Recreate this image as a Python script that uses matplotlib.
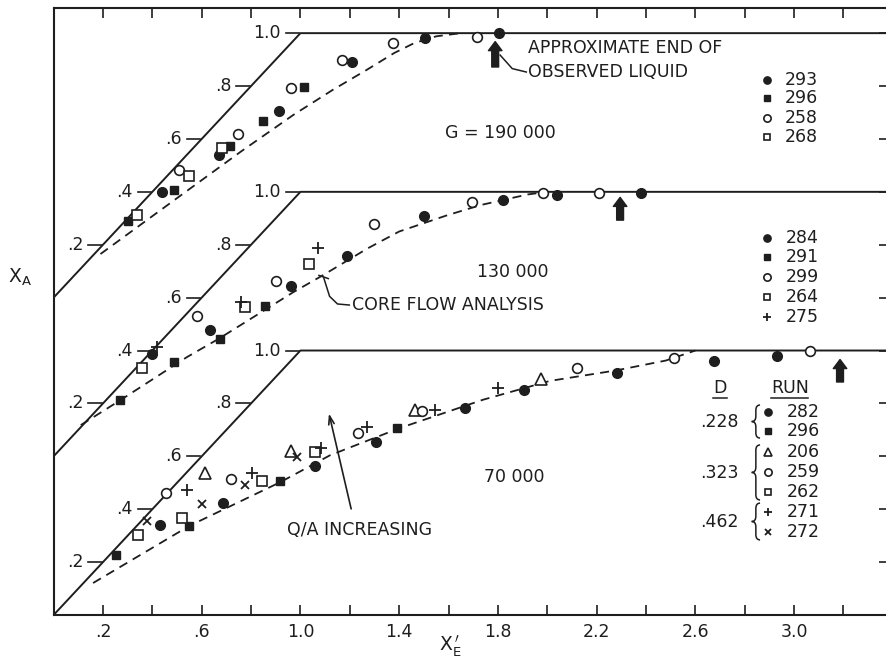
"""X_A against X_E' for three mass velocities, stacked on one axis.

Each G panel is shifted up by 0.6 in X_A so the three share one frame;
the solid envelope is X_A = X_E' capped at 1, dashed is the core-flow model.
"""
import numpy as np
import matplotlib.pyplot as plt
from matplotlib.path import Path
from matplotlib.patches import PathPatch

INK = "#1e1e1e"
FS = 12.5
plt.rcParams["font.family"] = ["DejaVu Sans"]

# panel shift on the shared X_A axis
OFF_190, OFF_130, OFF_70 = 1.2, 0.6, 0.0

# upper bound X_A = X_E', capped at 1.0
BOUND_X = [0.0, 1.0, 3.5]
BOUND_Y = [0.0, 1.0, 1.0]
DIAG_TICKS = [0.2, 0.4, 0.6, 0.8, 1.0]
DIAG_LABELS = [".2", ".4", ".6", ".8", "1.0"]

# core flow analysis (dashed)
CORE190_X = [0.19, 0.51, 0.76, 0.97, 1.13, 1.27, 1.38, 1.46, 1.55, 1.65]
CORE190_Y = [0.165, 0.383, 0.553, 0.69, 0.785, 0.862, 0.925, 0.962, 0.988, 1.0]
CORE130_X = [0.11, 0.27, 0.54, 0.67, 0.97, 1.09, 1.27, 1.40, 1.59, 1.73, 1.92, 2.0]
CORE130_Y = [0.118, 0.212, 0.375, 0.445, 0.62, 0.684, 0.785, 0.85, 0.91, 0.95, 0.99, 1.0]
CORE70_X = [0.16, 0.55, 0.92, 1.12, 1.40, 1.74, 2.01, 2.28, 2.48, 2.60]
CORE70_Y = [0.121, 0.337, 0.503, 0.604, 0.706, 0.814, 0.885, 0.925, 0.962, 1.0]

# G = 190 000
G190_293 = ([0.44, 0.67, 0.915, 1.21, 1.505, 1.805], [0.40, 0.538, 0.704, 0.89, 0.98, 1.0])
G190_296 = ([0.30, 0.488, 0.715, 0.85, 1.015], [0.289, 0.408, 0.575, 0.668, 0.796])
G190_258 = ([0.507, 0.747, 0.961, 1.167, 1.376, 1.716], [0.481, 0.618, 0.792, 0.898, 0.961, 0.985])
G190_268 = ([0.336, 0.547, 0.681], [0.314, 0.459, 0.567])

# G = 130 000
G130_284 = ([0.40, 0.633, 0.962, 1.188, 1.501, 1.822, 2.038, 2.379],
            [0.387, 0.477, 0.644, 0.757, 0.908, 0.971, 0.989, 0.996])
G130_291 = ([0.271, 0.488, 0.676, 0.856], [0.214, 0.356, 0.444, 0.568])
G130_299 = ([0.579, 0.899, 1.296, 1.694, 1.984, 2.21], [0.532, 0.663, 0.879, 0.963, 0.996, 0.996])
G130_264 = ([0.359, 0.775, 1.036], [0.334, 0.565, 0.728])
G130_275 = ([0.418, 0.758, 1.073], [0.413, 0.584, 0.788])

# G = 70 000
G70_282 = ([0.433, 0.687, 1.059, 1.305, 1.667, 1.906, 2.284, 2.677, 2.932],
           [0.34, 0.423, 0.565, 0.655, 0.782, 0.849, 0.916, 0.961, 0.98])
G70_296 = ([0.252, 0.55, 0.919, 1.393], [0.227, 0.337, 0.505, 0.706])
G70_206 = ([0.613, 0.962, 1.464, 1.974], [0.536, 0.62, 0.776, 0.894])
G70_259 = ([0.457, 0.72, 1.235, 1.492, 2.119, 2.514, 3.065], [0.461, 0.514, 0.687, 0.77, 0.935, 0.971, 1.0])
G70_262 = ([0.343, 0.519, 0.843, 1.061], [0.303, 0.365, 0.507, 0.616])
G70_271 = ([0.539, 0.804, 1.084, 1.269, 1.545, 1.802], [0.471, 0.536, 0.63, 0.709, 0.776, 0.859])
G70_272 = ([0.38, 0.60, 0.776, 0.987], [0.356, 0.42, 0.493, 0.598])

STYLE = {
    "fc": dict(marker="o", ms=7, mfc=INK, mec=INK, mew=1.0),
    "fs": dict(marker="s", ms=6, mfc=INK, mec=INK, mew=1.0),
    "oc": dict(marker="o", ms=7, mfc="white", mec=INK, mew=1.2),
    "os": dict(marker="s", ms=6.5, mfc="white", mec=INK, mew=1.2),
    "tri": dict(marker="^", ms=8, mfc="white", mec=INK, mew=1.2),
    "plus": dict(marker="+", ms=8, mec=INK, mew=1.3),
    "x": dict(marker="x", ms=5.5, mec=INK, mew=1.3),
}

PANELS = [
    (OFF_190, CORE190_X, CORE190_Y,
     [(G190_293, "fc"), (G190_296, "fs"), (G190_258, "oc"), (G190_268, "os")]),
    (OFF_130, CORE130_X, CORE130_Y,
     [(G130_284, "fc"), (G130_291, "fs"), (G130_299, "oc"), (G130_264, "os"), (G130_275, "plus")]),
    (OFF_70, CORE70_X, CORE70_Y,
     [(G70_282, "fc"), (G70_296, "fs"), (G70_206, "tri"), (G70_259, "oc"),
      (G70_262, "os"), (G70_271, "plus"), (G70_272, "x")]),
]

# legends, in data coordinates of the shared frame
LEG190 = [("fc", "293"), ("fs", "296"), ("oc", "258"), ("os", "268")]
LEG130 = [("fc", "284"), ("fs", "291"), ("oc", "299"), ("os", "264"), ("plus", "275")]
LEG70 = [("fc", "282"), ("fs", "296"), ("tri", "206"), ("oc", "259"), ("os", "262"),
         ("plus", "271"), ("x", "272")]
LEG190_Y = [2.023, 1.955, 1.879, 1.807]
LEG130_Y = [1.425, 1.354, 1.278, 1.202, 1.127]
LEG70_Y = [0.767, 0.696, 0.616, 0.541, 0.465, 0.389, 0.314]
DIAM = [".228", ".323", ".462"]


def brace(ax, x0, x1, ylo, yhi):
    ym, xm, d = (ylo + yhi) / 2, (x0 + x1) / 2, 0.02
    verts = [(x1, yhi), (xm, yhi), (xm, yhi - d), (xm, ym + d), (xm, ym), (x0, ym),
             (xm, ym), (xm, ym - d), (xm, ylo + d), (xm, ylo), (x1, ylo)]
    C, L = Path.CURVE3, Path.LINETO
    codes = [Path.MOVETO, C, C, L, C, C, C, C, L, C, C]
    ax.add_patch(PathPatch(Path(verts, codes), fc="none", ec=INK, lw=1.1))


def block_arrow(ax, x, y0, y1):
    ax.annotate("", xy=(x, y1), xytext=(x, y0),
                arrowprops=dict(arrowstyle="simple,head_length=0.5,head_width=0.75,tail_width=0.38",
                                fc=INK, ec=INK, mutation_scale=13, shrinkA=0, shrinkB=0))


fig = plt.figure(figsize=(8.86, 6.63), dpi=100)
ax = fig.add_axes([0.0605, 0.0724, 0.9425, 0.9155])
ax.set_xlim(0, 3.383)
ax.set_ylim(0, 2.295)

for off, cx, cy, series in PANELS:
    ax.plot(BOUND_X, np.add(BOUND_Y, off), color=INK, lw=1.4, zorder=2)
    ax.plot(cx, np.add(cy, off), color=INK, lw=1.3, ls=(0, (5, 3.5)), zorder=2)
    for (xs, ys), key in series:
        ax.plot(xs, np.add(ys, off), ls="none", zorder=4, **STYLE[key])
    for v, lab in zip(DIAG_TICKS, DIAG_LABELS):
        ax.plot([v - 0.06, v - 0.005], [off + v] * 2, color=INK, lw=1.2, zorder=2)
        ax.text(v - 0.08, off + v, lab, ha="right", va="center", fontsize=FS, color=INK)

# legends
for (key, run), y in zip(LEG190, LEG190_Y):
    st = dict(STYLE[key]); st["ms"] *= 0.75
    ax.plot(2.891, y, **st)
    ax.text(2.964, y, run, ha="left", va="center", fontsize=FS, color=INK)
for (key, run), y in zip(LEG130, LEG130_Y):
    st = dict(STYLE[key]); st["ms"] *= 0.75
    ax.plot(2.891, y, **st)
    ax.text(2.968, y, run, ha="left", va="center", fontsize=FS, color=INK)
for (key, run), y in zip(LEG70, LEG70_Y):
    st = dict(STYLE[key]); st["ms"] *= 0.75
    ax.plot(2.895, y, **st)
    ax.text(2.972, y, run, ha="left", va="center", fontsize=FS, color=INK)

ax.text(2.700, 0.860, "D", ha="center", va="center", fontsize=FS, color=INK)
ax.text(2.984, 0.860, "RUN", ha="center", va="center", fontsize=FS, color=INK)
ax.plot([2.672, 2.729], [0.822, 0.822], color=INK, lw=1.1)
ax.plot([2.907, 3.057], [0.822, 0.822], color=INK, lw=1.1)
for lab, y in zip(DIAM, [0.730, 0.537, 0.352]):
    ax.text(2.775, y, lab, ha="right", va="center", fontsize=FS, color=INK)
brace(ax, 2.828, 2.862, 0.669, 0.794)
brace(ax, 2.828, 2.862, 0.435, 0.643)
brace(ax, 2.828, 2.862, 0.284, 0.423)

# annotations
ax.text(1.922, 2.144, "APPROXIMATE END OF", ha="left", va="center", fontsize=FS, color=INK)
ax.text(1.922, 2.053, "OBSERVED LIQUID", ha="left", va="center", fontsize=FS, color=INK)
ax.plot([1.809, 1.858, 1.915], [2.117, 2.066, 2.053], color=INK, lw=1.1)
ax.text(1.809, 1.822, "G = 190 000", ha="center", va="center", fontsize=FS, color=INK)
ax.text(1.862, 1.297, "130 000", ha="center", va="center", fontsize=FS, color=INK)
ax.text(1.866, 0.522, "70 000", ha="center", va="center", fontsize=FS, color=INK)
ax.text(1.209, 1.172, "CORE FLOW ANALYSIS", ha="left", va="center", fontsize=FS, color=INK)
ax.plot([1.094, 1.118, 1.15, 1.198], [1.276, 1.205, 1.176, 1.172], color=INK, lw=1.1)
ax.plot([1.075, 1.113], [1.284, 1.272], color=INK, lw=1.1)
ax.text(1.241, 0.321, "Q/A INCREASING", ha="center", va="center", fontsize=FS, color=INK)
ax.annotate("", xy=(1.113, 0.772), xytext=(1.208, 0.391),
            arrowprops=dict(arrowstyle="->,head_length=0.6,head_width=0.2", color=INK, lw=1.2))

block_arrow(ax, 1.789, 2.072, 2.168)
block_arrow(ax, 2.295, 1.493, 1.579)
block_arrow(ax, 3.186, 0.881, 0.966)

# frame: inward ticks on bottom, top and right, none on the left
major = np.arange(0.2, 3.21, 0.4)
ax.set_xticks(major)
ax.set_xticklabels([".2", ".6", "1.0", "1.4", "1.8", "2.2", "2.6", "3.0"], fontsize=FS, color=INK)
ax.set_xticks(np.arange(0.4, 3.3, 0.4), minor=True)
ax.set_yticks(np.arange(0.2, 2.25, 0.2))
ax.tick_params(which="both", direction="in", top=True, bottom=True, length=7,
               width=1.2, color=INK, pad=6)
ax.tick_params(axis="y", which="both", left=False, right=True, labelleft=False)
for s in ax.spines.values():
    s.set_linewidth(1.5)
    s.set_color(INK)

fig.text(20 / 886, 1 - 277 / 663, r"$\mathrm{X}_\mathrm{A}$", ha="center", va="center",
         fontsize=FS + 1, color=INK)
fig.text(450 / 886, 1 - 646 / 663, r"$\mathrm{X}_\mathrm{E}^{\,\prime}$", ha="center", va="center",
         fontsize=FS + 1, color=INK)

fig.savefig("out.png", dpi=100, facecolor="white")
